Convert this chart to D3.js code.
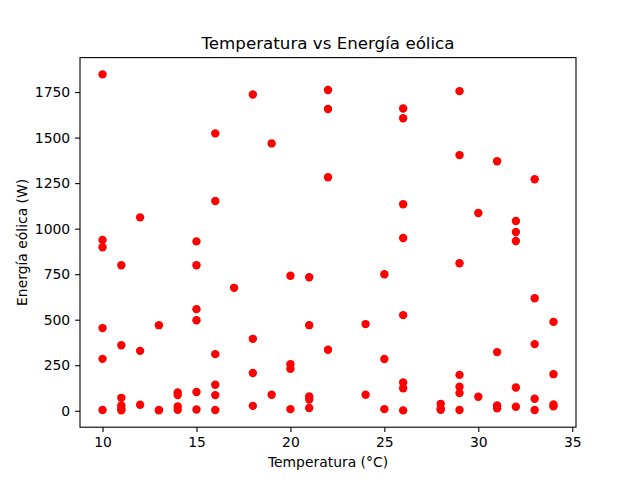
<!DOCTYPE html>
<html>
<head>
<meta charset="utf-8">
<script src="https://cdn.jsdelivr.net/npm/d3@7"></script>
<style>
  body { margin: 0; background: #fff; }
  svg { display: block; font-family: "DejaVu Sans", sans-serif; }
</style>
</head>
<body>
<svg id="c" width="640" height="480"></svg>
<script>
var temperatura = [
  10, 10, 10, 10, 10, 10,
  11, 11, 11, 11, 11, 11,
  12, 12, 12,
  13, 13, 13,
  14, 14, 14, 14,
  15, 15, 15, 15, 15, 15,
  16, 16, 16, 16, 16, 16,
  17,
  18, 18, 18, 18,
  19, 19,
  20, 20, 20, 20,
  21, 21, 21, 21, 21,
  22, 22, 22, 22,
  24, 24,
  25, 25, 25,
  26, 26, 26, 26, 26, 26, 26, 26,
  28, 28, 28,
  29, 29, 29, 29, 29, 29, 29,
  30, 30,
  31, 31, 31, 31,
  32, 32, 32, 32, 32,
  33, 33, 33, 33, 33,
  34, 34, 34, 34
];
var energia = [
  1847, 938, 898, 454, 285, 4,
  799, 360, 71, 29, 12, 3,
  1062, 329, 33,
  470, 5, 2,
  100, 86, 24, 5,
  930, 799, 558, 497, 103, 7,
  1523, 1152, 311, 143, 86, 4,
  675,
  1737, 395, 207, 27,
  1468, 88,
  741, 256, 230, 9,
  733, 470, 78, 62, 15,
  1761, 1657, 1282, 335,
  476, 88,
  750, 284, 9,
  1660, 1606, 1134, 949, 525, 155, 124, 2,
  38, 12, 5,
  1755, 1404, 810, 197, 132, 97, 4,
  1086, 77,
  1370, 322, 29, 13,
  1042, 982, 932, 128, 22,
  1271, 618, 366, 66, 4,
  488, 201, 35, 24
];
var xTicks = [10, 15, 20, 25, 30, 35];
var yTicks = [0, 250, 500, 750, 1000, 1250, 1500, 1750];

var c = {left: 80, right: 576, top: 57.6, bottom: 427.2};

var svg = d3.select("svg#c");

// matplotlib style 5% margins
var xmin = d3.min(temperatura), xmax = d3.max(temperatura);
var ymin = d3.min(energia), ymax = d3.max(energia);
var xm = (xmax - xmin) * 0.05, ym = (ymax - ymin) * 0.05;

var x = d3.scaleLinear().domain([xmin - xm, xmax + xm]).range([c.left, c.right]);
var y = d3.scaleLinear().domain([ymin - ym, ymax + ym]).range([c.bottom, c.top]);

var pts = temperatura.map(function(t, i) { return {t: t, e: energia[i]}; });

svg.append("g")
  .selectAll("circle")
  .data(pts)
  .enter().append("circle")
  .attr("cx", function(d) { return x(d.t); })
  .attr("cy", function(d) { return y(d.e); })
  .attr("r", 4.2)
  .attr("fill", "#ff0000");

var xAxis = svg.append("g")
  .attr("transform", "translate(0," + c.bottom + ")")
  .call(d3.axisBottom(x).tickValues(xTicks).tickSize(4.9).tickPadding(4.9).tickFormat(d3.format("d")));
var yAxis = svg.append("g")
  .attr("transform", "translate(" + c.left + ",0)")
  .call(d3.axisLeft(y).tickValues(yTicks).tickSize(4.9).tickPadding(4.9).tickFormat(d3.format("d")));

[xAxis, yAxis].forEach(function(a) {
  a.select(".domain").remove();
  a.selectAll(".tick line").attr("stroke", "#000").attr("stroke-width", 1.1);
  a.selectAll(".tick text").attr("font-size", "13.9px").attr("fill", "#000")
    .attr("font-family", "DejaVu Sans, sans-serif");
});

// frame
svg.append("rect")
  .attr("x", c.left).attr("y", c.top)
  .attr("width", c.right - c.left).attr("height", c.bottom - c.top)
  .attr("fill", "none").attr("stroke", "#000").attr("stroke-width", 1.1);

svg.append("text")
  .attr("x", (c.left + c.right) / 2).attr("y", 49)
  .attr("text-anchor", "middle")
  .attr("font-size", "16.7px")
  .text("Temperatura vs Energía eólica");

svg.append("text")
  .attr("x", (c.left + c.right) / 2).attr("y", 467)
  .attr("text-anchor", "middle")
  .attr("font-size", "13.9px")
  .text("Temperatura (°C)");

svg.append("text")
  .attr("transform", "translate(27," + ((c.top + c.bottom) / 2) + ") rotate(-90)")
  .attr("text-anchor", "middle")
  .attr("font-size", "13.9px")
  .text("Energía eólica (W)");
</script>
</body>
</html>
